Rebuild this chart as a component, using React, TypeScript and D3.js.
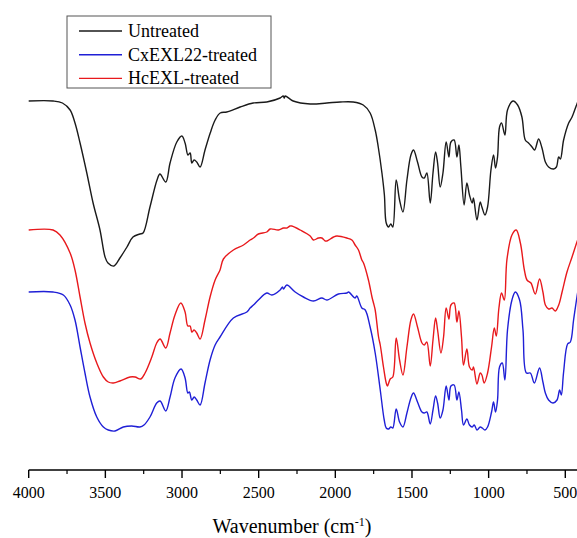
import React from "react";
import * as d3 from "d3";

// FTIR spectra: [wavenumber (cm-1), transmittance (a.u., offset for display)]
const untreated: [number, number][] = [
  [4000, 369], [3841, 369], [3780, 367], [3730, 360], [3698, 347], [3665, 327], [3621, 297],
  [3580, 267], [3535, 240], [3502, 213], [3483, 207], [3444, 204], [3405, 212], [3359, 223],
  [3320, 233], [3275, 236], [3254, 237], [3209, 263], [3163, 290], [3144, 296], [3106, 288],
  [3078, 307], [3034, 328], [3001, 334], [2980, 327], [2961, 315], [2947, 317], [2936, 307],
  [2921, 310], [2904, 308], [2882, 303], [2850, 320], [2816, 337], [2784, 350], [2751, 357],
  [2708, 358], [2621, 363], [2536, 367], [2447, 368], [2360, 372], [2340, 374], [2333, 372],
  [2327, 374], [2275, 369], [2164, 366], [2055, 367], [1968, 368], [1884, 368], [1818, 365],
  [1773, 357], [1740, 340], [1720, 323], [1696, 297], [1680, 275], [1668, 247], [1653, 243],
  [1638, 246], [1625, 243], [1603, 290], [1581, 270], [1559, 258], [1533, 290], [1507, 315],
  [1490, 320], [1464, 308], [1435, 293], [1420, 292], [1403, 297], [1381, 267], [1363, 297],
  [1346, 318], [1333, 307], [1316, 283], [1298, 297], [1277, 328], [1259, 313], [1246, 328],
  [1225, 330], [1207, 313], [1194, 325], [1181, 303], [1160, 265], [1142, 287], [1125, 275],
  [1107, 267], [1099, 272], [1076, 250], [1055, 268], [1044, 263], [1024, 255], [1007, 263],
  [985, 300], [968, 315], [955, 302], [942, 313], [929, 343], [916, 347], [894, 335],
  [877, 360], [841, 369], [811, 365], [783, 353], [761, 330], [740, 327], [717, 323],
  [700, 320], [674, 331], [652, 322], [630, 308], [609, 303], [576, 301], [558, 303],
  [543, 313], [532, 311], [511, 330], [478, 347], [456, 353], [424, 366], [400, 374],
];

const cxexl22: [number, number][] = [
  [4000, 178], [3841, 178], [3774, 175], [3730, 165], [3698, 150], [3665, 123], [3633, 97],
  [3600, 73], [3556, 53], [3513, 43], [3481, 40], [3437, 39], [3383, 43], [3328, 44],
  [3275, 43], [3248, 45], [3209, 53], [3165, 67], [3143, 69], [3106, 59], [3078, 73],
  [3046, 92], [3006, 101], [2980, 92], [2962, 77], [2952, 78], [2936, 70], [2921, 73],
  [2904, 70], [2882, 65], [2850, 87], [2817, 110], [2784, 125], [2752, 133], [2665, 152],
  [2577, 158], [2556, 162], [2534, 165], [2502, 170], [2447, 177], [2414, 175], [2360, 180],
  [2345, 183], [2338, 181], [2316, 185], [2262, 178], [2208, 173], [2143, 169], [2088, 172],
  [2055, 170], [1980, 176], [1925, 177], [1914, 178], [1871, 172], [1860, 174], [1827, 162],
  [1805, 160], [1773, 143], [1740, 117], [1707, 80], [1681, 50], [1668, 42], [1653, 41],
  [1638, 43], [1625, 42], [1603, 61], [1581, 48], [1559, 43], [1533, 57], [1507, 72],
  [1490, 77], [1464, 68], [1435, 58], [1420, 57], [1403, 58], [1381, 46], [1363, 60],
  [1346, 74], [1333, 67], [1316, 52], [1298, 60], [1277, 84], [1259, 70], [1246, 84],
  [1225, 85], [1207, 70], [1194, 78], [1177, 60], [1164, 45], [1142, 51], [1125, 45],
  [1107, 43], [1094, 45], [1076, 40], [1055, 43], [1042, 42], [1024, 40], [1007, 43],
  [981, 58], [968, 68], [955, 58], [942, 70], [929, 103], [911, 107], [894, 90],
  [877, 140], [848, 170], [826, 178], [798, 170], [776, 140], [754, 97], [728, 97],
  [702, 87], [668, 102], [646, 88], [630, 77], [609, 70], [580, 67], [554, 70],
  [537, 80], [526, 75], [511, 98], [485, 126], [467, 128], [446, 150], [424, 173], [400, 195],
];

const hcexl: [number, number][] = [
  [4000, 240], [3841, 240], [3796, 235], [3730, 217], [3698, 200], [3665, 173], [3633, 147],
  [3600, 127], [3556, 107], [3513, 93], [3481, 88], [3448, 87], [3405, 89], [3339, 93],
  [3306, 93], [3269, 91], [3241, 97], [3197, 113], [3165, 127], [3143, 131], [3106, 122],
  [3078, 137], [3046, 155], [3008, 167], [2980, 158], [2962, 144], [2947, 144], [2936, 138],
  [2921, 140], [2904, 137], [2882, 131], [2850, 150], [2817, 173], [2784, 190], [2752, 200],
  [2730, 211], [2665, 220], [2599, 225], [2556, 230], [2534, 232], [2502, 236], [2447, 238],
  [2425, 241], [2371, 240], [2338, 242], [2316, 242], [2295, 244], [2284, 244], [2229, 240],
  [2164, 234], [2143, 230], [2110, 232], [2088, 232], [2066, 229], [2055, 229], [2012, 233],
  [1990, 234], [1925, 232], [1892, 230], [1871, 225], [1849, 220], [1827, 210], [1816, 207],
  [1784, 190], [1761, 173], [1751, 167], [1740, 160], [1718, 133], [1707, 125], [1686, 103],
  [1668, 87], [1660, 84], [1642, 91], [1625, 93], [1603, 132], [1581, 110], [1559, 95],
  [1533, 123], [1507, 150], [1490, 156], [1464, 143], [1435, 127], [1420, 125], [1403, 128],
  [1381, 104], [1363, 130], [1346, 152], [1333, 140], [1311, 117], [1294, 133], [1277, 162],
  [1259, 151], [1246, 165], [1225, 167], [1207, 148], [1194, 159], [1177, 133], [1164, 105],
  [1142, 121], [1125, 103], [1107, 100], [1099, 103], [1076, 86], [1055, 97], [1044, 95],
  [1029, 87], [1007, 97], [981, 123], [963, 142], [950, 134], [933, 162], [916, 177],
  [898, 170], [881, 210], [848, 235], [820, 240], [793, 227], [767, 200], [750, 190],
  [724, 187], [696, 176], [668, 191], [646, 178], [630, 165], [609, 161], [587, 162],
  [565, 159], [543, 165], [521, 178], [489, 198], [456, 213], [424, 228], [400, 238],
];

const seriesNames = ["Untreated", "CxEXL22-treated", "HcEXL-treated"];
const seriesColors = ["#1a1a1a", "#1f1fd6", "#e8191c"];
const majorTicks = [4000, 3500, 3000, 2500, 2000, 1500, 1000, 500];
const minorTicks = [3750, 3250, 2750, 2250, 1750, 1250, 750];
const axisTitle = "Wavenumber (cm";

const W = 577;
const H = 538;
const axisY = 470;
const FONT = "Liberation Serif";

export default function App() {
  const x = d3.scaleLinear().domain([4000, 500]).range([28.7, 565.3]);
  const y = d3.scaleLinear().domain([0, 470]).range([axisY, 0]);
  const line = d3
    .line<[number, number]>()
    .x((d) => x(d[0]))
    .y((d) => y(d[1]))
    .curve(d3.curveCatmullRom.alpha(0.5));

  const data = [untreated, cxexl22, hcexl];

  return (
    <svg
      width={W}
      height={H}
      style={{ position: "absolute", left: 0, top: 0, background: "#fff" }}
      fontFamily={FONT}
    >
      <rect x={0} y={0} width={W} height={H} fill="#fff" />
      {data.map((d, i) => (
        <path
          key={i}
          d={line(d) || ""}
          fill="none"
          stroke={seriesColors[i]}
          strokeWidth={1.4}
          strokeLinejoin="round"
        />
      ))}
      {/* x axis */}
      <line x1={x(4000)} x2={W + 5} y1={axisY} y2={axisY} stroke="#000" strokeWidth={1.4} />
      {majorTicks.map((t) => (
        <line key={"M" + t} x1={x(t)} x2={x(t)} y1={axisY} y2={axisY + 8} stroke="#000" strokeWidth={1.4} />
      ))}
      {minorTicks.map((t) => (
        <line key={"m" + t} x1={x(t)} x2={x(t)} y1={axisY} y2={axisY + 4} stroke="#000" strokeWidth={1.2} />
      ))}
      <g fontFamily={FONT} fontSize={16}>
        {majorTicks.map((t) => (
          <text key={"L" + t} x={x(t)} y={498} textAnchor="middle" fill="#000">
            {String(t)}
          </text>
        ))}
      </g>
      <g fontFamily={FONT} fontSize={20}>
        <text x={292} y={533} textAnchor="middle" fill="#000">
          {axisTitle}
          <tspan dy={-7} fontSize={12}>-1</tspan>
          <tspan dy={7}>)</tspan>
        </text>
      </g>
      {/* legend */}
      <rect x={67} y={16} width={204} height={72} fill="#fff" stroke="#555" strokeWidth={1} />
      {seriesNames.map((n, i) => {
        const ry = 31 + i * 23.7;
        return (
          <g key={n}>
            <line x1={79} x2={122} y1={ry} y2={ry} stroke={seriesColors[i]} strokeWidth={1.4} />
            <text x={128} y={ry + 6} fontSize={18} fill="#000" fontFamily={FONT}>
              {n}
            </text>
          </g>
        );
      })}
    </svg>
  );
}
